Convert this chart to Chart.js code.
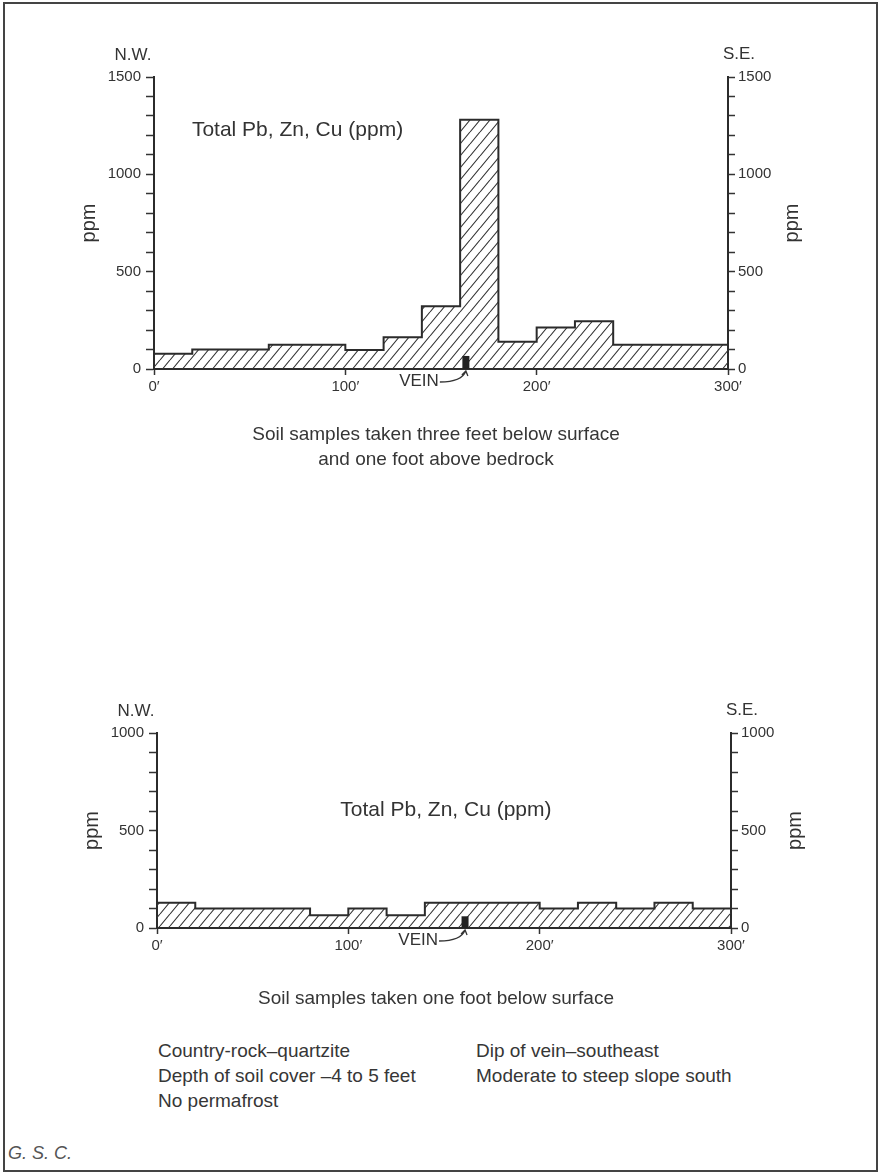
<!DOCTYPE html>
<html lang="en">
  <head>
    <meta charset="UTF-8" />
    <script src="https://cdn.jsdelivr.net/npm/chart.js"></script>
    <title>Soil samples - Total Pb, Zn, Cu</title>
    <style>
      body {
        margin: 0;
        background: #fff;
        font-family: "Liberation Sans", Arial, sans-serif;
        color: #363636;
      }
      .page {
        position: relative;
        width: 881px;
        height: 1173px;
        overflow: hidden;
      }
      .frame {
        position: absolute;
        left: 3px;
        top: 2px;
        width: 871px;
        height: 1166px;
        border: 2px solid #444;
      }
      canvas {
        position: absolute;
        left: 0;
      }
      .txt {
        position: absolute;
        font-size: 19px;
        line-height: 25px;
        white-space: nowrap;
      }
      .center {
        left: 0;
        width: 872px;
        text-align: center;
      }
      .gsc {
        position: absolute;
        left: 8px;
        top: 1143px;
        font-size: 18px;
        font-style: italic;
        color: #555;
      }
    </style>
  </head>
  <body>
    <div class="page">
      <div class="frame"></div>

      <canvas id="topChart" width="881" height="480" style="top: 0"></canvas>
      <div class="txt center" style="top: 421px">
        Soil samples taken three feet below surface<br />and one foot above
        bedrock
      </div>

      <canvas id="bottomChart" width="881" height="360" style="top: 650px"></canvas>
      <div class="txt center" style="top: 985px">
        Soil samples taken one foot below surface
      </div>

      <div class="txt" style="left: 158px; top: 1038px">
        Country-rock–quartzite<br />Depth of soil cover –4 to 5 feet<br />No
        permafrost
      </div>
      <div class="txt" style="left: 476px; top: 1038px">
        Dip of vein–southeast<br />Moderate to steep slope south
      </div>
      <div class="gsc">G. S. C.</div>
    </div>

    <script>
      // distance along traverse (ft) where each sample interval starts, last = end
      const topDistance = [0, 20, 60, 100, 120, 140, 160, 180, 200, 220, 240, 300];
      const topPpm = [78, 100, 125, 97, 163, 322, 1280, 140, 213, 245, 125, 125];

      const bottomDistance = [0, 20, 80, 100, 120, 140, 200, 220, 240, 260, 280, 300];
      const bottomPpm = [130, 100, 65, 100, 65, 130, 100, 130, 100, 130, 100, 100];

      const distanceTicks = [0, 100, 200, 300];
      const topPpmLabels = [0, 500, 1000, 1500];
      const bottomPpmLabels = [0, 500, 1000];

      Chart.defaults.font.family = '"Liberation Sans", Arial, sans-serif';
      Chart.defaults.color = "#333";

      function hatchPattern() {
        const c = document.createElement("canvas");
        c.width = 10;
        c.height = 12;
        const g = c.getContext("2d");
        g.strokeStyle = "#333";
        g.lineWidth = 1.1;
        g.beginPath();
        for (const dx of [-10, 0, 10]) {
          g.moveTo(dx, 12);
          g.lineTo(dx + 10, 0);
        }
        g.stroke();
        return g.createPattern(c, "repeat");
      }

      const annotate = {
        id: "annotate",
        afterDraw(chart, args, opts) {
          const ctx = chart.ctx;
          const a = chart.chartArea;
          const x = chart.scales.x;
          const y = chart.scales.y;
          const y0 = y.getPixelForValue(0);
          ctx.save();
          ctx.fillStyle = "#333";
          ctx.textBaseline = "middle";
          ctx.textAlign = "center";

          ctx.font = '17px "Liberation Sans", Arial, sans-serif';
          ctx.fillText("N.W.", a.left - 21, a.top - 22);
          ctx.fillText("S.E.", a.right + 11, a.top - 23);

          ctx.font = '20px "Liberation Sans", Arial, sans-serif';
          const midY = (a.top + a.bottom) / 2;
          for (const px of [a.left - 65, a.right + 64]) {
            ctx.save();
            ctx.translate(px, midY);
            ctx.rotate(-Math.PI / 2);
            ctx.fillText("ppm", 0, 0);
            ctx.restore();
          }

          ctx.font = '21px "Liberation Sans", Arial, sans-serif';
          ctx.fillText(
            "Total Pb, Zn, Cu (ppm)",
            x.getPixelForValue(opts.titleFt),
            y.getPixelForValue(opts.titlePpm)
          );

          // vein marker
          const vx = x.getPixelForValue(opts.veinFt);
          const vtop = y.getPixelForValue(opts.veinPpm);
          ctx.fillStyle = "#222";
          ctx.fillRect(vx - 3.5, vtop, 7, y0 - vtop);

          ctx.fillStyle = "#333";
          ctx.font = '17px "Liberation Sans", Arial, sans-serif';
          ctx.textAlign = "right";
          ctx.fillText("VEIN", vx - 27, y0 + 12);

          ctx.strokeStyle = "#333";
          ctx.lineWidth = 1.3;
          ctx.beginPath();
          ctx.moveTo(vx - 26, y0 + 13);
          ctx.quadraticCurveTo(vx - 4, y0 + 13, vx, y0 + 2);
          ctx.moveTo(vx - 4, y0 + 6);
          ctx.lineTo(vx, y0 + 2);
          ctx.lineTo(vx + 2, y0 + 7);
          ctx.stroke();
          ctx.restore();
        },
      };

      function ppmAxis(position, max, labels, width, tick, pad) {
        return {
          type: "linear",
          position: position,
          min: 0,
          max: max,
          afterFit: (scale) => {
            scale.width = width;
          },
          ticks: {
            stepSize: 100,
            autoSkip: false,
            padding: pad,
            font: { size: 15 },
            color: "#333",
            callback: (v) => (labels.includes(v) ? String(v) : ""),
          },
          grid: {
            drawOnChartArea: false,
            tickLength: tick,
            tickColor: "#333",
            tickWidth: 1.5,
          },
          border: { display: true, color: "#2b2b2b", width: 2 },
        };
      }

      function makeChart(id, distance, ppm, opt) {
        const ctx = document.getElementById(id).getContext("2d");
        return new Chart(ctx, {
          type: "line",
          data: {
            datasets: [
              {
                data: distance.map((d, i) => ({ x: d, y: ppm[i] })),
                stepped: true,
                fill: "origin",
                backgroundColor: hatchPattern(),
                borderColor: "#2b2b2b",
                borderWidth: 2,
                pointRadius: 0,
                yAxisID: "y",
              },
            ],
          },
          options: {
            responsive: false,
            animation: false,
            devicePixelRatio: 1,
            layout: { padding: { top: opt.padTop } },
            scales: {
              x: {
                type: "linear",
                min: 0,
                max: 300,
                afterFit: (scale) => {
                  scale.height = opt.xHeight;
                },
                afterBuildTicks: (scale) => {
                  scale.ticks = distanceTicks.map((v) => ({ value: v }));
                },
                ticks: {
                  autoSkip: false,
                  maxRotation: 0,
                  padding: 3,
                  font: { size: 15 },
                  color: "#333",
                  callback: (v) => v + "′",
                },
                grid: {
                  drawOnChartArea: false,
                  tickLength: 6,
                  tickColor: "#333",
                  tickWidth: 1.5,
                },
                border: { display: true, color: "#2b2b2b", width: 2 },
              },
              y: ppmAxis("left", opt.yMax, opt.labels, opt.leftWidth, 8, 5),
              y2: ppmAxis("right", opt.yMax, opt.labels, opt.rightWidth, 7, 3),
            },
            plugins: {
              legend: { display: false },
              tooltip: { enabled: false },
              annotate: opt.annotate,
            },
          },
          plugins: [annotate],
        });
      }

      makeChart("topChart", topDistance, topPpm, {
        padTop: 77,
        xHeight: 111,
        leftWidth: 154,
        rightWidth: 153,
        yMax: 1500,
        labels: topPpmLabels,
        annotate: { titleFt: 75, titlePpm: 1228, veinFt: 163, veinPpm: 67 },
      });

      makeChart("bottomChart", bottomDistance, bottomPpm, {
        padTop: 83,
        xHeight: 82,
        leftWidth: 157,
        rightWidth: 150,
        yMax: 1000,
        labels: bottomPpmLabels,
        annotate: { titleFt: 151, titlePpm: 605, veinFt: 161, veinPpm: 60 },
      });
    </script>
  </body>
</html>
